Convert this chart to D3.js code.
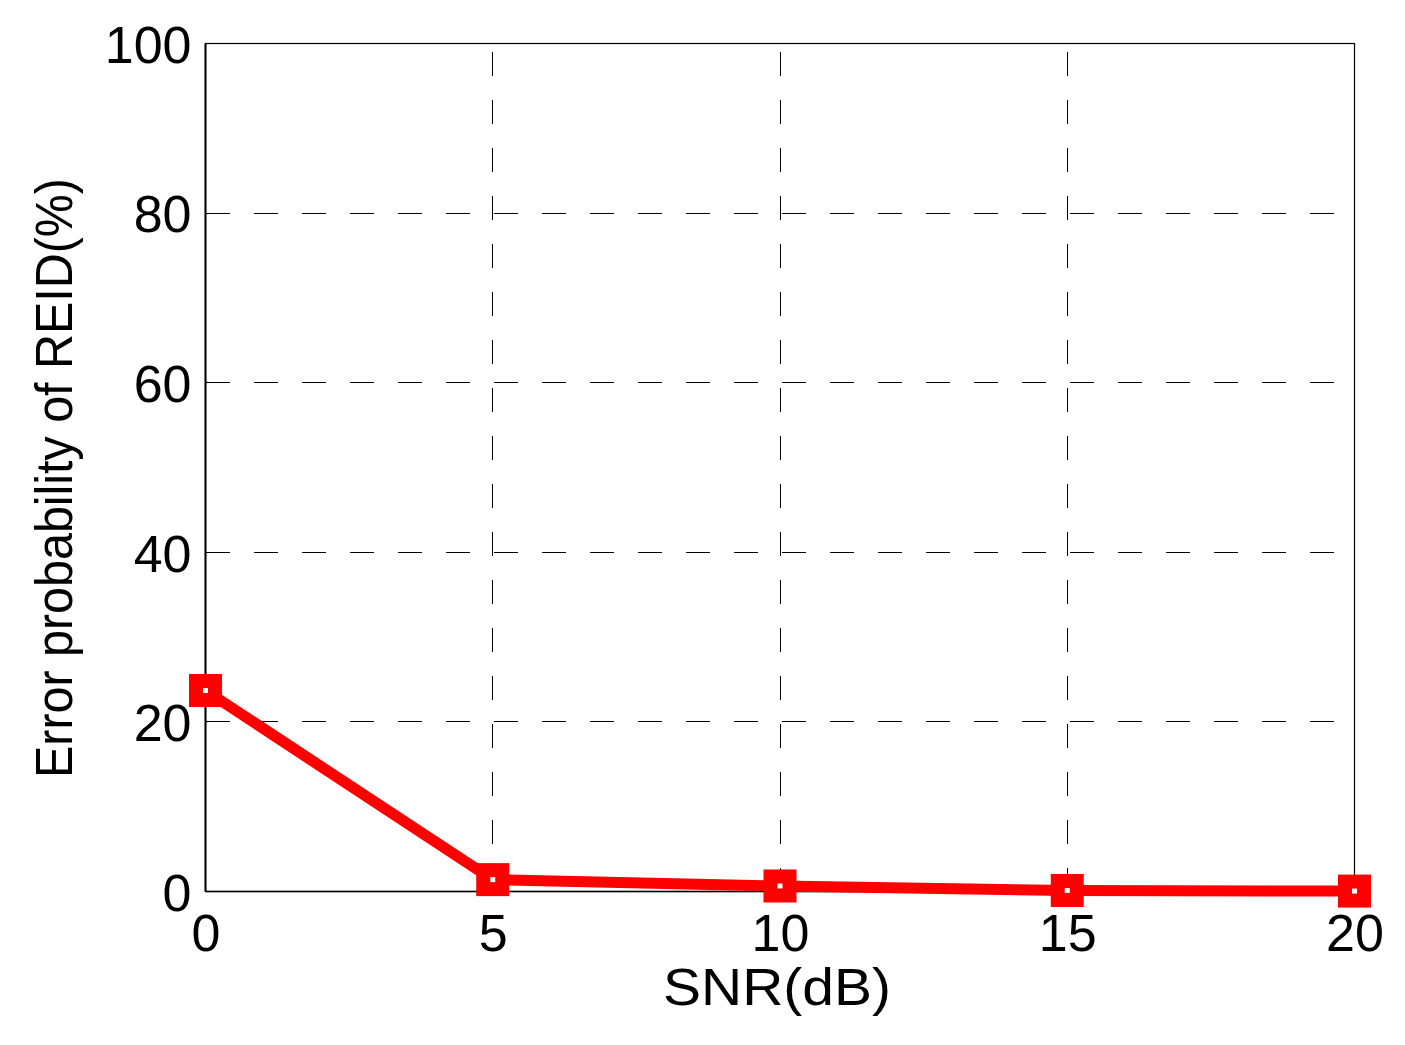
<!DOCTYPE html>
<html>
<head>
<meta charset="utf-8">
<script src="https://cdn.jsdelivr.net/npm/d3@7"></script>
<style>
  html, body { margin: 0; padding: 0; background: #fff; }
  svg { display: block; }
  text { font-family: "Liberation Sans", Arial, sans-serif; fill: #000; }
</style>
</head>
<body>
<svg id="chart" width="1405" height="1045"></svg>
<script>
const snr = [0, 5, 10, 15, 20];
const errProb = [23.7, 1.4, 0.65, 0.12, 0.05];
const xTicks = [0, 5, 10, 15, 20];
const yTicks = [0, 20, 40, 60, 80, 100];
const X_LABEL = "SNR(dB)";
const Y_LABEL = "Error probability of REID(%)";

const MARGIN = { top: 43.5, right: 50.5, bottom: 153.5, left: 205.5 };
const W = 1405, H = 1045;
const w = W - MARGIN.left - MARGIN.right;
const h = H - MARGIN.top - MARGIN.bottom;

const svg = d3.select("#chart");
const g = svg.append("g").attr("transform", `translate(${MARGIN.left},${MARGIN.top})`);

const x = d3.scaleLinear().domain([0, 20]).range([0, w]);
const y = d3.scaleLinear().domain([0, 100]).range([h, 0]);

// dashed grid (matlab style, crisp 1px black)
g.append("g").selectAll("line")
  .data(yTicks.filter(d => d > 0 && d < 100))
  .join("line")
  .attr("x1", 0).attr("x2", w)
  .attr("y1", d => y(d)).attr("y2", d => y(d))
  .attr("stroke", "#000").attr("stroke-width", 1)
  .attr("shape-rendering", "crispEdges")
  .attr("stroke-dasharray", "24,24");

g.append("g").selectAll("line")
  .data(xTicks.filter(d => d > 0 && d < 20))
  .join("line")
  .attr("x1", d => x(d)).attr("x2", d => x(d))
  .attr("y1", h).attr("y2", 0)
  .attr("stroke", "#000").attr("stroke-width", 1)
  .attr("shape-rendering", "crispEdges")
  .attr("stroke-dasharray", "24,24");

// box
g.append("rect")
  .attr("x", 0).attr("y", 0).attr("width", w).attr("height", h)
  .attr("fill", "none").attr("stroke", "#000").attr("stroke-width", 1.2);
g.append("line").attr("x1", 0).attr("x2", 0).attr("y1", 0).attr("y2", h)
  .attr("stroke", "#000").attr("stroke-width", 2);
g.append("line").attr("x1", 0).attr("x2", w).attr("y1", h).attr("y2", h)
  .attr("stroke", "#000").attr("stroke-width", 1.5);

// axes (labels only)
const xAxis = g.append("g").attr("transform", `translate(0,${h})`)
  .call(d3.axisBottom(x).tickValues(xTicks).tickSize(0).tickPadding(22).tickFormat(d3.format("d")));
xAxis.select(".domain").remove();
xAxis.selectAll("text").attr("font-size", 52).attr("dy", "0.72em")
  .style("font-family", "'Liberation Sans', Arial, sans-serif");

const yAxis = g.append("g")
  .call(d3.axisLeft(y).tickValues(yTicks).tickSize(0).tickPadding(14).tickFormat(d3.format("d")));
yAxis.select(".domain").remove();
yAxis.selectAll("text").attr("font-size", 52).attr("dy", "0.36em")
  .style("font-family", "'Liberation Sans', Arial, sans-serif");

// axis titles
svg.append("text")
  .attr("x", 777).attr("y", 1005)
  .attr("text-anchor", "middle").attr("font-size", 52)
  .attr("textLength", 228).attr("lengthAdjust", "spacingAndGlyphs")
  .text(X_LABEL);

svg.append("text")
  .attr("transform", "translate(72,478) rotate(-90)")
  .attr("text-anchor", "middle").attr("font-size", 52)
  .attr("textLength", 600).attr("lengthAdjust", "spacingAndGlyphs")
  .text(Y_LABEL);

// series
const pts = snr.map((s, i) => ({ s, v: errProb[i] }));
const line = d3.line().x(d => x(d.s)).y(d => y(d.v));

g.append("path")
  .datum(pts)
  .attr("d", line)
  .attr("fill", "none").attr("stroke", "#ff0000")
  .attr("stroke-width", 11).attr("stroke-linejoin", "miter");

const MS = 19;
g.append("g").selectAll("rect")
  .data(pts)
  .join("rect")
  .attr("x", d => x(d.s) - MS / 2).attr("y", d => y(d.v) - MS / 2)
  .attr("width", MS).attr("height", MS)
  .attr("fill", "#fff").attr("stroke", "#ff0000").attr("stroke-width", 14);
</script>
</body>
</html>
